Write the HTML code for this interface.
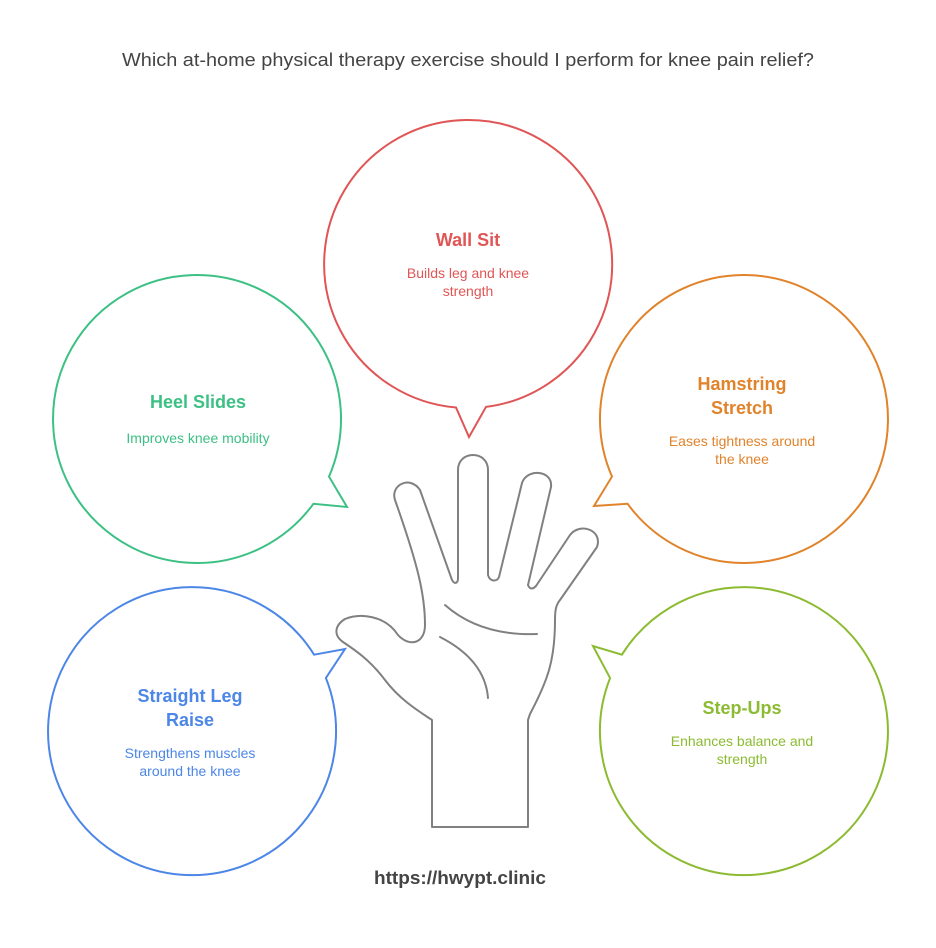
<!DOCTYPE html>
<html><head><meta charset="utf-8"><style>
body{margin:0;background:#fff;}
svg{display:block;font-family:"Liberation Sans",Arial,sans-serif;}
</style></head><body>
<svg width="936" height="948" viewBox="0 0 936 948" xmlns="http://www.w3.org/2000/svg">
<rect width="936" height="948" fill="#fff"/>
<text x="468" y="66" text-anchor="middle" font-size="18" fill="#444" textLength="692" lengthAdjust="spacingAndGlyphs">Which at-home physical therapy exercise should I perform for knee pain relief?</text>
<g fill="none" stroke-width="2" stroke-linejoin="miter">
<path d="M456,407.5 A144,144 0 1 1 486,406.9 L469,437 Z" stroke="#e05555"/>
<path d="M329,476.6 A144,144 0 1 0 313.4,503.8 L347,507 Z" stroke="#3cc084"/>
<path d="M612,476.6 A144,144 0 1 1 627.6,503.8 L594,506 Z" stroke="#e0832b"/>
<path d="M314.1,654.7 A144,144 0 1 0 325.9,678 L345,649 Z" stroke="#4c86e6"/>
<path d="M621.9,654.7 A144,144 0 1 1 610.1,678 L593,646 Z" stroke="#8cbb32"/>
</g>
<g fill="none" stroke="#808080" stroke-width="2" stroke-linecap="round" stroke-linejoin="round">
<path d="M432,827 L432,720 C420,712 400,700 385,680 C370,660 355,650 343,642 C333,635 335,625 345,619 C360,613 385,615 398,635 C410,648 425,643 425,625 C425,595 418,565 395,500 C390,485 410,475 420,490 L452,580 C455,585 458,583 458,578 L458,470 C458,450 488,450 488,470 L488,575 C490,582 497,582 499,577 L522,483 C527,468 553,470 551,487 L528,585 C530,590 533,589 536,586 L570,535 C580,522 603,530 597,547 L560,600 C556,605 555,610 555,620 C555,660 548,680 530,714 L528,720 L528,827 Z"/>
<path d="M445,605 Q480,636 537,634"/>
<path d="M440,637 Q485,660 488,698"/>
</g>
<g text-anchor="middle">
<text x="468" y="246" font-size="18" font-weight="bold" fill="#e05555">Wall Sit</text>
<text x="468" y="278" font-size="14" fill="#e05555">Builds leg and knee</text>
<text x="468" y="296" font-size="14" fill="#e05555">strength</text>
<text x="198" y="408" font-size="18" font-weight="bold" fill="#3cc084">Heel Slides</text>
<text x="198" y="443" font-size="14" fill="#3cc084">Improves knee mobility</text>
<text x="742" y="390" font-size="18" font-weight="bold" fill="#e0832b">Hamstring</text>
<text x="742" y="414" font-size="18" font-weight="bold" fill="#e0832b">Stretch</text>
<text x="742" y="446" font-size="14" fill="#e0832b">Eases tightness around</text>
<text x="742" y="464" font-size="14" fill="#e0832b">the knee</text>
<text x="190" y="702" font-size="18" font-weight="bold" fill="#4c86e6">Straight Leg</text>
<text x="190" y="726" font-size="18" font-weight="bold" fill="#4c86e6">Raise</text>
<text x="190" y="758" font-size="14" fill="#4c86e6">Strengthens muscles</text>
<text x="190" y="776" font-size="14" fill="#4c86e6">around the knee</text>
<text x="742" y="714" font-size="18" font-weight="bold" fill="#8cbb32">Step-Ups</text>
<text x="742" y="746" font-size="14" fill="#8cbb32">Enhances balance and</text>
<text x="742" y="764" font-size="14" fill="#8cbb32">strength</text>
<text x="460" y="884" font-size="18" font-weight="bold" fill="#444" textLength="172" lengthAdjust="spacingAndGlyphs">https://hwypt.clinic</text>
</g>
</svg>
</body></html>
